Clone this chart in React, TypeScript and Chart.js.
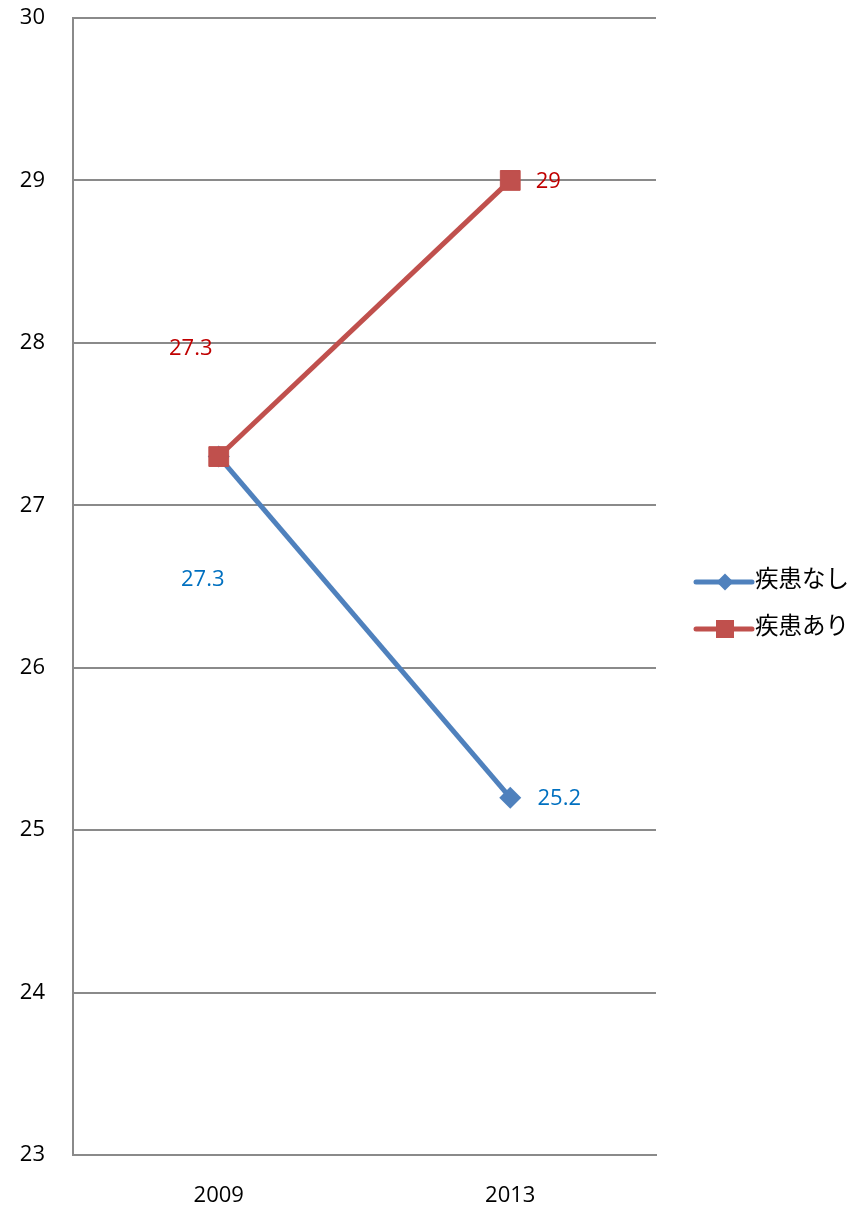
import React, { useEffect, useRef } from "react";
import { Chart, registerables } from "chart.js";

Chart.register(...registerables);

const categories = ["2009", "2013"];
const seriesNames = ["疾患なし", "疾患あり"];
const noDisease = [27.3, 25.2];
const withDisease = [27.3, 29];
const yTicks = [23, 24, 25, 26, 27, 28, 29, 30];

const blueLine = "#4F81BD";
const redLine = "#C0504D";
const blueLabel = "#0070C0";
const redLabel = "#C00000";
const gridGray = "#8A8A8A";

// label offsets (px) from each point, per dataset
const labelOffsets = [
  [[-16, 123], [49, 1]],
  [[-28, -108], [38, 1]],
];

const labelFont = "22px 'Open Sans', 'Noto Sans', sans-serif";

const dataLabelPlugin = {
  id: "dataLabels",
  afterDatasetsDraw(chart: any) {
    const ctx = chart.ctx;
    ctx.save();
    ctx.font = labelFont;
    ctx.textAlign = "center";
    ctx.textBaseline = "middle";
    chart.data.datasets.forEach((ds: any, di: number) => {
      const meta = chart.getDatasetMeta(di);
      meta.data.forEach((pt: any, i: number) => {
        const [dx, dy] = labelOffsets[di][i];
        ctx.fillStyle = ds.labelColor;
        ctx.fillText(String(ds.data[i]), pt.x + dx, pt.y + dy);
      });
    });
    ctx.restore();
  },
};

const legendPlugin = {
  id: "customLegend",
  afterDraw(chart: any) {
    const ctx = chart.ctx;
    ctx.save();
    const x0 = 696;
    const x1 = 752;
    const ys = [582, 629];
    chart.data.datasets.forEach((ds: any, di: number) => {
      const y = ys[di];
      ctx.strokeStyle = ds.borderColor;
      ctx.lineWidth = 5;
      ctx.lineCap = "round";
      ctx.beginPath();
      ctx.moveTo(x0, y);
      ctx.lineTo(x1, y);
      ctx.stroke();
      const cx = (x0 + x1) / 2 + 1;
      ctx.fillStyle = ds.borderColor;
      ctx.beginPath();
      if (ds.pointStyle === "rectRot") {
        const r = 8.5;
        ctx.moveTo(cx - r, y);
        ctx.lineTo(cx, y - r);
        ctx.lineTo(cx + r, y);
        ctx.lineTo(cx, y + r);
        ctx.closePath();
      } else {
        const s = 9;
        ctx.rect(cx - s, y - s, 2 * s, 2 * s);
      }
      ctx.fill();
      ctx.fillStyle = "#000";
      ctx.font = "23.5px 'Noto Sans CJK JP', sans-serif";
      ctx.textAlign = "left";
      ctx.textBaseline = "middle";
      ctx.fillText(ds.label, x1 + 3, y - 4);
    });
    ctx.restore();
  },
};

export default function App() {
  const ref = useRef<HTMLCanvasElement | null>(null);
  useEffect(() => {
    if (!ref.current) return;
    const chart = new Chart(ref.current, {
      type: "line",
      data: {
        labels: categories,
        datasets: [
          {
            label: seriesNames[0],
            data: noDisease,
            borderColor: blueLine,
            backgroundColor: blueLine,
            borderWidth: 5,
            pointStyle: "rectRot",
            pointRadius: 11,
            pointBorderWidth: 0,
            pointBackgroundColor: blueLine,
            order: 1,
            labelColor: blueLabel,
          } as any,
          {
            label: seriesNames[1],
            data: withDisease,
            borderColor: redLine,
            backgroundColor: redLine,
            borderWidth: 5,
            pointStyle: "rect",
            pointRadius: 14,
            pointBorderWidth: 1,
            pointBorderColor: redLine,
            pointBackgroundColor: redLine,
            order: 0,
            labelColor: redLabel,
          } as any,
        ],
      },
      options: {
        responsive: false,
        animation: false,
        layout: { padding: { top: 18, right: 212, bottom: 0, left: 0 } },
        plugins: {
          legend: { display: false },
          tooltip: { enabled: false },
        },
        scales: {
          x: {
            type: "category",
            offset: true,
            grid: { display: false },
            border: { display: true, color: gridGray, width: 2 },
            ticks: {
              color: "#000",
              font: { family: "'Open Sans', 'Noto Sans', sans-serif", size: 22 },
              padding: 20,
            },
            afterFit(scale: any) {
              scale.height = 51;
              scale.paddingLeft = 0;
              scale.paddingRight = 0;
            },
          },
          y: {
            min: 23,
            max: 30,
            afterBuildTicks(scale: any) {
              scale.ticks = yTicks.map((v) => ({ value: v }));
            },
            grid: { color: gridGray, lineWidth: 2, drawTicks: false },
            border: { display: true, color: gridGray, width: 2 },
            ticks: {
              color: "#000",
              font: { family: "'Open Sans', 'Noto Sans', sans-serif", size: 22 },
              padding: 28,
            },
            afterFit(scale: any) {
              scale.width = 73;
              scale.paddingTop = 0;
              scale.paddingBottom = 0;
            },
          },
        },
      },
      plugins: [dataLabelPlugin, legendPlugin],
    });
    return () => chart.destroy();
  }, []);
  return (
    <div style={{ position: "fixed", left: 0, top: 0, width: 868, height: 1206, background: "#fff" }}>
      <canvas ref={ref} width={868} height={1206} style={{ width: 868, height: 1206, display: "block" }} />
    </div>
  );
}
